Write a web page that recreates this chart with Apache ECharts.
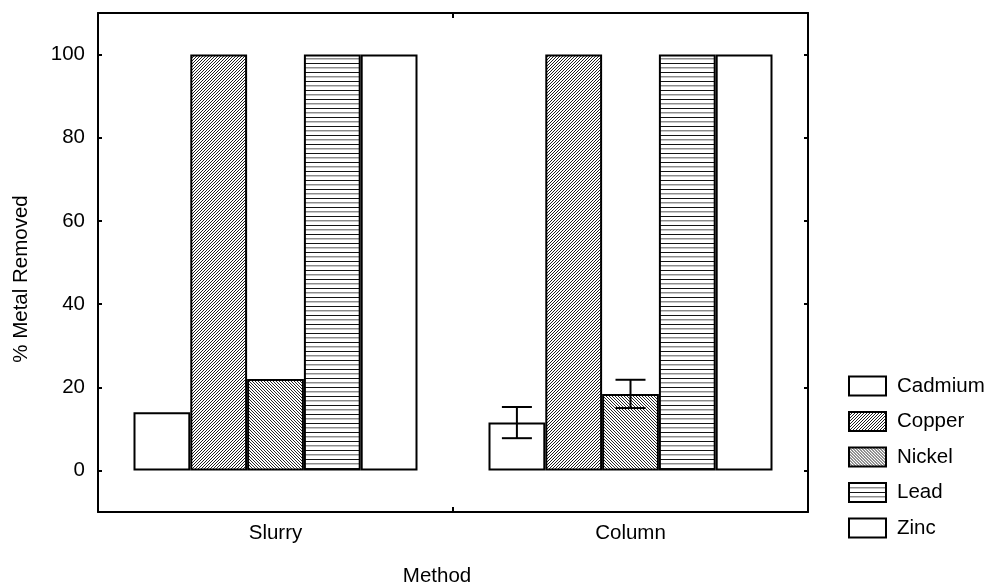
<!DOCTYPE html>
<html>
<head>
<meta charset="utf-8">
<script src="https://cdn.jsdelivr.net/npm/echarts@6/dist/echarts.min.js"></script>
<style>
  html, body { margin: 0; padding: 0; background: #fff; }
  #chart { width: 986px; height: 583px; }
</style>
</head>
<body>
<div id="chart"></div>
<script>
// Removal method categories and metals
const categories = ['Slurry', 'Column'];
const metals = ['Cadmium', 'Copper', 'Nickel', 'Lead', 'Zinc'];

// % metal removed per method
const cadmium = [14, 11.5];
const copper = [100, 100];
const nickel = [22, 18.4];
const lead = [100, 100];
const zinc = [100, 100];

// Error half-widths (0 = no error bar)
const cadmiumErr = [0, 3.75];
const nickelErr = [0, 3.4];

// Y axis tick values
const yTicks = [0, 20, 40, 60, 80, 100];

const FONT = '"Liberation Sans", Arial, sans-serif';
const FS = 20.5;
const CAT_GAP = 0.2;

// Build small repeating hatch tiles as canvas fill patterns
function hatch(w, h, painter) {
  const c = document.createElement('canvas');
  c.width = w; c.height = h;
  const ctx = c.getContext('2d');
  ctx.fillStyle = '#fff';
  ctx.fillRect(0, 0, w, h);
  const img = ctx.getImageData(0, 0, w, h);
  for (let y = 0; y < h; y++) {
    for (let x = 0; x < w; x++) {
      const v = painter(x, y);
      if (v !== null) {
        const i = (y * w + x) * 4;
        img.data[i] = img.data[i + 1] = img.data[i + 2] = v;
      }
    }
  }
  ctx.putImageData(img, 0, 0);
  return { image: c, repeat: 'repeat' };
}

// "/" hatch, "\" hatch, and alternating dark/grey horizontal rules
const copperFill = hatch(6, 6, (x, y) => ((x + y) % 3 === 0 ? 30 : null));
const nickelFill = hatch(6, 6, (x, y) => ((x - y + 12) % 3 === 0 ? 40 : null));
const leadFill = hatch(4, 9, (x, y) => (y === 0 ? 20 : y === 4 ? 140 : y === 5 ? 200 : null));

const fills = ['#ffffff', copperFill, nickelFill, leadFill, '#ffffff'];
const values = [cadmium, copper, nickel, lead, zinc];

// Error bar records: [categoryIndex, low, high, metalIndex]
const errorData = [];
[[0, cadmium, cadmiumErr], [2, nickel, nickelErr]].forEach(([mi, vals, errs]) => {
  vals.forEach((v, ci) => {
    if (errs[ci] > 0) errorData.push([ci, v - errs[ci], v + errs[ci], mi]);
  });
});

const barSeries = metals.map((name, i) => ({
  name,
  type: 'bar',
  data: values[i],
  barGap: '0%',
  barCategoryGap: (CAT_GAP * 100) + '%',
  itemStyle: { color: fills[i], borderColor: '#000', borderWidth: 2 },
  emphasis: { disabled: true }
}));

const errorSeries = {
  type: 'custom',
  z: 5,
  silent: true,
  data: errorData,
  renderItem(params, api) {
    const cat = api.value(0);
    const lo = api.value(1);
    const hi = api.value(2);
    const mi = api.value(3);
    const band = api.size([1, 0])[0];
    const group = band * (1 - CAT_GAP);
    const bw = group / metals.length;
    const cx = api.coord([cat, 0])[0] - group / 2 + (mi + 0.5) * bw;
    const yLo = api.coord([cat, lo])[1];
    const yHi = api.coord([cat, hi])[1];
    const half = 15;
    const style = { stroke: '#000', lineWidth: 2 };
    return {
      type: 'group',
      children: [
        { type: 'line', shape: { x1: cx, y1: yLo, x2: cx, y2: yHi }, style },
        { type: 'line', shape: { x1: cx - half, y1: yHi, x2: cx + half, y2: yHi }, style },
        { type: 'line', shape: { x1: cx - half, y1: yLo, x2: cx + half, y2: yLo }, style }
      ]
    };
  }
};

const axisLine = { show: true, onZero: false, lineStyle: { color: '#000', width: 2 } };
const tickStyle = { color: '#000', width: 2 };

const option = {
  animation: false,
  backgroundColor: '#fff',
  textStyle: { fontFamily: FONT, color: '#000' },
  grid: { left: 98, right: 178, top: 13, bottom: 71, containLabel: false },
  legend: {
    data: metals,
    orient: 'vertical',
    left: 843,
    top: 370.5,
    itemWidth: 37,
    itemHeight: 19,
    itemGap: 14.5,
    icon: 'rect',
    selectedMode: false,
    textStyle: { fontFamily: FONT, fontSize: FS, color: '#000', padding: [0, 0, 0, 6] }
  },
  xAxis: [
    {
      type: 'category',
      data: categories,
      position: 'bottom',
      axisLine,
      axisTick: { show: true, inside: true, length: 5, lineStyle: tickStyle },
      axisLabel: { fontFamily: FONT, fontSize: FS, color: '#000', margin: 11 }
    },
    {
      type: 'category',
      data: categories,
      position: 'top',
      axisLine,
      axisTick: { show: true, inside: true, length: 5, lineStyle: tickStyle },
      axisLabel: { show: false }
    }
  ],
  yAxis: [
    {
      type: 'value',
      min: -10,
      max: 110,
      position: 'left',
      splitLine: { show: false },
      axisLine,
      axisTick: { show: true, inside: true, length: 4, customValues: yTicks, lineStyle: tickStyle },
      axisLabel: { fontFamily: FONT, fontSize: FS, color: '#000', margin: 13, customValues: yTicks }
    },
    {
      type: 'value',
      min: -10,
      max: 110,
      position: 'right',
      splitLine: { show: false },
      axisLine,
      axisTick: { show: true, inside: true, length: 4, customValues: yTicks, lineStyle: tickStyle },
      axisLabel: { show: false }
    }
  ],
  graphic: [
    {
      type: 'text',
      x: 437, y: 576,
      style: { text: 'Method', font: FS + 'px ' + FONT, fill: '#000', textAlign: 'center', textVerticalAlign: 'middle' }
    },
    {
      type: 'text',
      x: 21, y: 279,
      rotation: Math.PI / 2,
      style: { text: '% Metal Removed', font: FS + 'px ' + FONT, fill: '#000', textAlign: 'center', textVerticalAlign: 'middle' }
    }
  ],
  series: [...barSeries, errorSeries]
};

const chart = echarts.init(document.getElementById('chart'), null, { renderer: 'canvas' });
chart.setOption(option);
</script>
</body>
</html>
